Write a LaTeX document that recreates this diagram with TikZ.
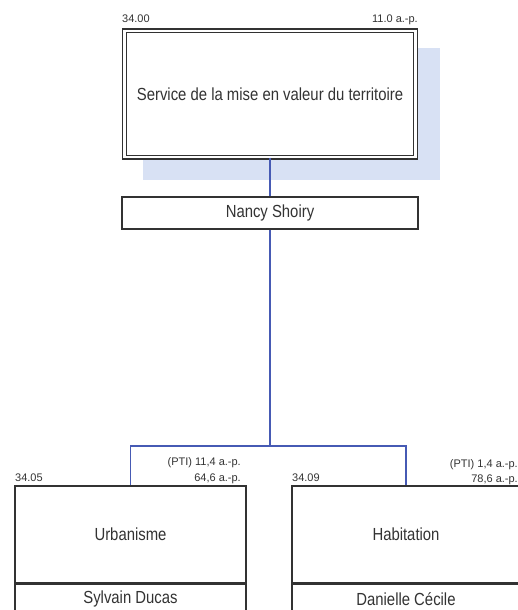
\documentclass[tikz,border=0pt]{standalone}
\usepackage{fontspec}
\setmainfont{Liberation Sans}
\newfontfamily\boxfont{Liberation Sans}[FakeStretch=0.85]
\usetikzlibrary{positioning}
\definecolor{linkcolor}{RGB}{70,90,180}
\definecolor{shadowcolor}{RGB}{216,225,244}
\definecolor{framecolor}{RGB}{50,50,50}

\begin{document}
\begin{tikzpicture}[x=1pt, y=-1pt,
    every node/.style={inner sep=0pt},
    box/.style={draw=framecolor, fill=white, line width=1.3pt, align=center,
                font=\boxfont\fontsize{17.5}{20}\selectfont, text=black!80},
    headbox/.style={box, double, double distance=2.4pt, line width=1.3pt},
    tag/.style={font=\fontsize{11}{13}\selectfont, text=black!80},
    link/.style={draw=linkcolor, line width=1.1pt},
]
\clip (0,0) rectangle (518,610);
\fill[white] (0,0) rectangle (518,610);

%% ── Service (top) ────────────────────────────────────────────────────────────
\fill[shadowcolor] (143,48) rectangle (440,180);
\node[headbox, minimum width=291pt, minimum height=126pt]
  (service) at (270,94)
  {Service de la mise en valeur du territoire};
\node[tag, anchor=base west] (servicecode) at (122,23) {34.00};
\node[tag, anchor=base east] (servicestaff) at (418,23) {11.0 a.-p.};

%% ── Director ─────────────────────────────────────────────────────────────────
\node[box, minimum width=296pt, minimum height=32pt]
  (director) at (270,213)
  {Nancy Shoiry};

%% ── Divisions ────────────────────────────────────────────────────────────────
\node[box, minimum width=231pt, minimum height=97pt]
  (urban) at (130.5,534.5)
  {Urbanisme};
\node[box, minimum width=231pt, minimum height=30pt, below=0pt of urban]
  (urbanhead)
  {Sylvain Ducas};
\node[tag, anchor=base west] (urbancode) at (15,481) {34.05};
\node[tag, anchor=base east] (urbanpti) at (241,465) {(PTI) 11,4 a.-p.};
\node[tag, anchor=base east] (urbanstaff) at (241,481) {64,6 a.-p.};

\node[box, minimum width=228pt, minimum height=97pt]
  (housing) at (406,534.5)
  {Habitation};
\node[box, minimum width=228pt, minimum height=30pt, below=0pt of housing]
  (housinghead)
  {Danielle Cécile};
\node[tag, anchor=base west] (housingcode) at (292,481) {34.09};
\node[tag, anchor=base east] (housingpti) at (518,467) {(PTI) 1,4 a.-p.};
\node[tag, anchor=base east] (housingstaff) at (518,482) {78,6 a.-p.};

%% ── Links ────────────────────────────────────────────────────────────────────
\coordinate (fork) at (270,446);
\draw[link] (service.south) -- (director.north);
\draw[link] (director.south) -- (fork);
\draw[link] (fork) -| (urban.north);
\draw[link] (fork) -| (housing.north);

\end{tikzpicture}
\end{document}
